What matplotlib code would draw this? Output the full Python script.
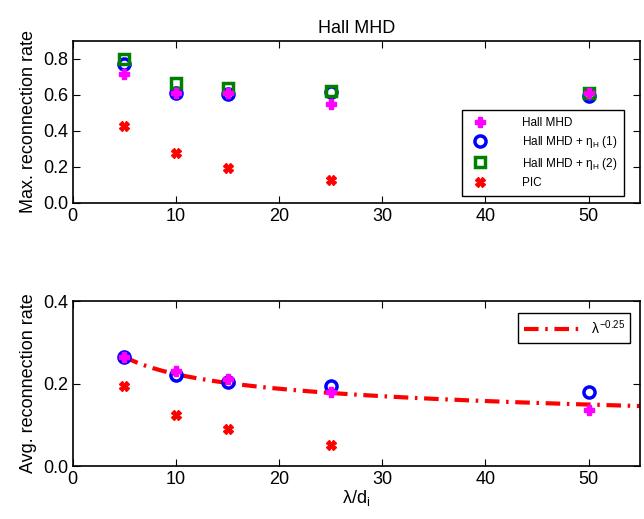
import matplotlib
matplotlib.use("Agg")
import matplotlib.pyplot as plt
import numpy as np

plt.rcParams['font.family'] = ['Liberation Sans', 'DejaVu Sans']
plt.rcParams['mathtext.fontset'] = 'custom'
plt.rcParams['mathtext.rm'] = 'Liberation Sans'
plt.rcParams['mathtext.it'] = 'Liberation Sans'

# valores
lam = [5, 10, 15, 25, 50]
max_hall = [0.715, 0.61, 0.61, 0.55, 0.61]
max_eta1 = [0.77, 0.61, 0.605, 0.615, 0.595]
max_eta2 = [0.80, 0.665, 0.64, 0.62, 0.61]
lam_pic = [5, 10, 15, 25]
max_pic = [0.43, 0.28, 0.195, 0.13]

avg_hall = [0.265, 0.23, 0.21, 0.18, 0.135]
avg_eta1 = [0.265, 0.22, 0.203, 0.193, 0.18]
avg_pic = [0.195, 0.123, 0.09, 0.052]

fig = plt.figure(figsize=(6.44, 5.19), dpi=100)
ax1 = fig.add_axes([0.113, 0.609, 0.881, 0.312])
ax2 = fig.add_axes([0.113, 0.102, 0.881, 0.318])

ax1.plot(lam, max_hall, 'P', color='magenta', ms=6.5, mec='magenta', label='Hall MHD', zorder=5)
ax1.plot(lam, max_eta1, 'o', color='blue', mfc='none', mew=2.5, ms=8, label=r'Hall MHD + $\eta_H$ (1)', zorder=3)
ax1.plot(lam, max_eta2, 's', color='green', mfc='none', mec='green', mew=2.5, ms=7, label=r'Hall MHD + $\eta_H$ (2)', zorder=4)
ax1.plot(lam_pic, max_pic, 'X', color='red', ms=6.5, label='PIC')
ax1.set_xlim(0, 55)
ax1.set_ylim(0, 0.9)
ax1.set_yticks([0, 0.2, 0.4, 0.6, 0.8])
ax1.set_ylabel('Max. reconnection rate', fontsize=13)
ax1.set_title('Hall MHD', fontsize=13)
ax1.legend(loc='lower right', fontsize=8.5, fancybox=False, edgecolor='black',
           framealpha=1, borderpad=0.6, labelspacing=0.45, handletextpad=2.5,
           bbox_to_anchor=(0.972, 0.043), borderaxespad=0)

xfit = np.linspace(5, 55, 200)
yfit = avg_hall[0] * (xfit / lam[0]) ** -0.25
ax2.plot(xfit, yfit, color='red', lw=3, dashes=(3.5, 1.6, 0.6, 1.6), label=r'$\lambda^{-0.25}$')
ax2.plot(lam, avg_hall, 'P', color='magenta', ms=6.5, zorder=5)
ax2.plot(lam, avg_eta1, 'o', color='blue', mfc='none', mew=2.5, ms=8, zorder=4)
ax2.plot(lam_pic, avg_pic, 'X', color='red', ms=6.5)
ax2.set_xlim(0, 55)
ax2.set_ylim(0, 0.4)
ax2.set_yticks([0, 0.2, 0.4])
ax2.set_ylabel('Avg. reconnection rate', fontsize=13)
ax2.set_xlabel(r'$\lambda$/d$_\mathrm{i}$', fontsize=13, labelpad=0)
ax2.legend(loc='upper right', fontsize=10, fancybox=False, edgecolor='black',
           framealpha=1, handlelength=4, bbox_to_anchor=(0.995, 0.97))

for ax in (ax1, ax2):
    ax.set_xticks([0, 10, 20, 30, 40, 50])
    ax.tick_params(direction='in', top=True, right=True, labelsize=13, length=5)
    for s in ax.spines.values():
        s.set_linewidth(1.2)

plt.savefig("out.png", dpi=100)
